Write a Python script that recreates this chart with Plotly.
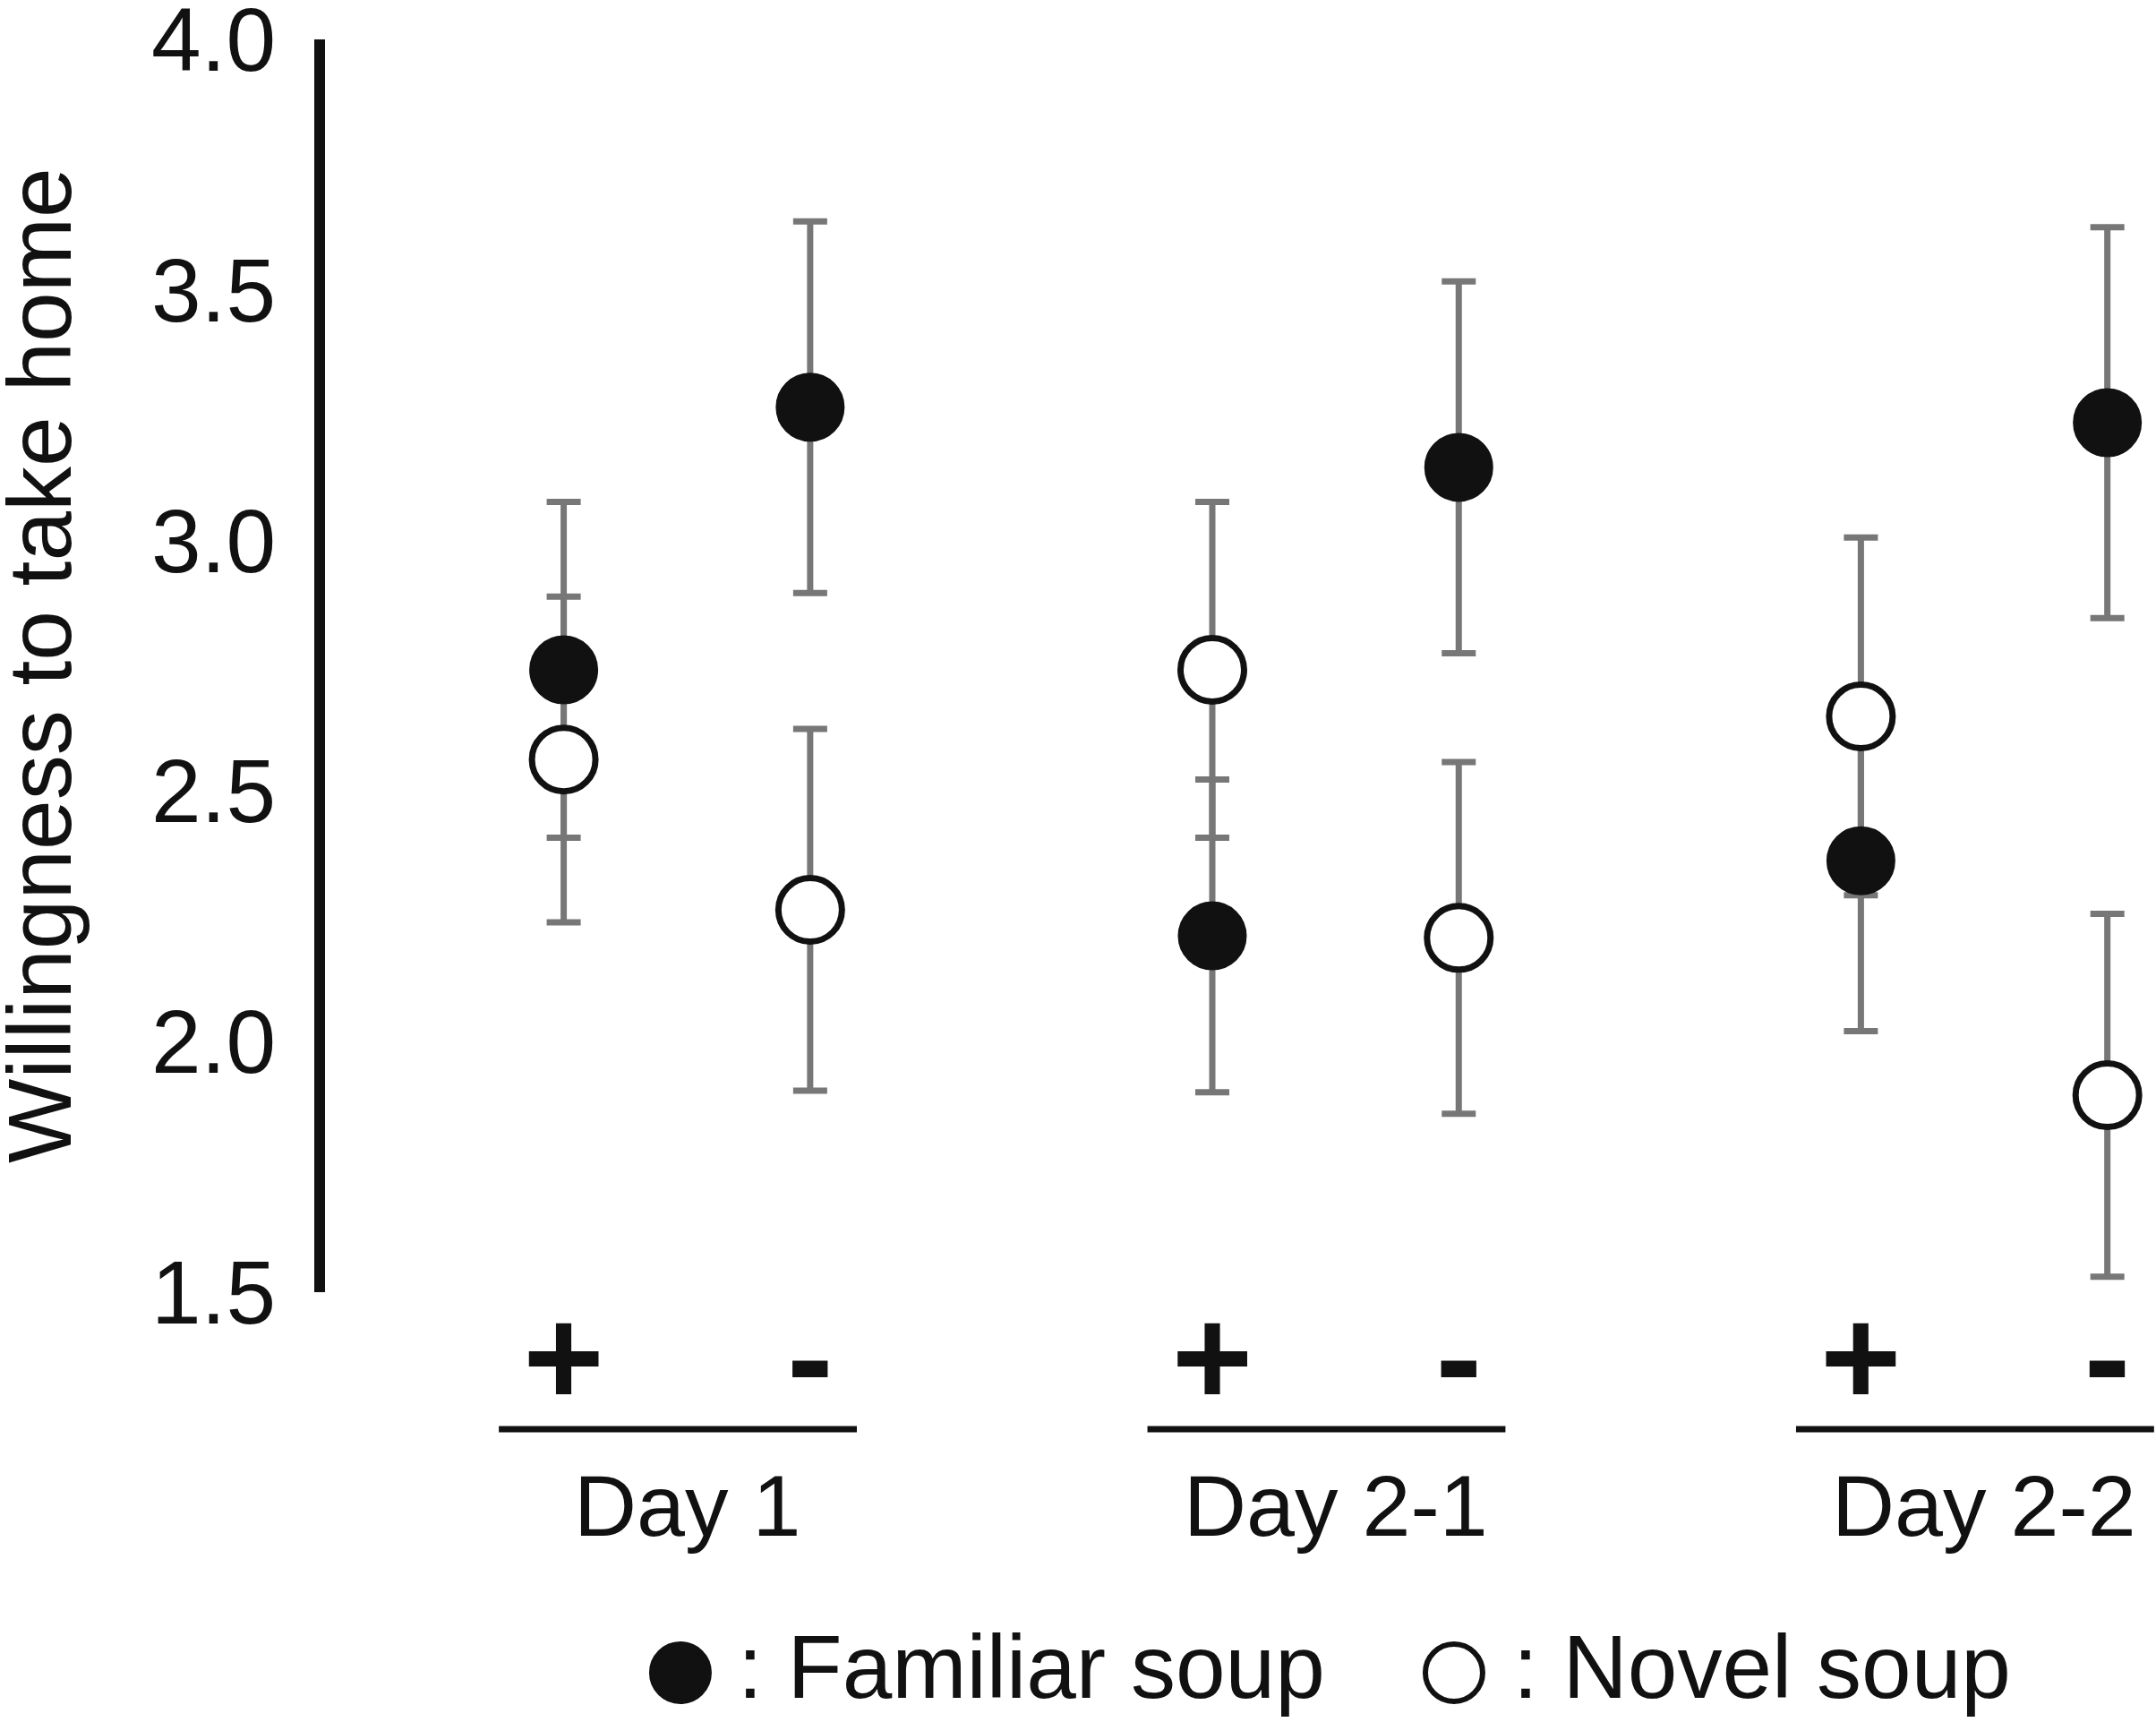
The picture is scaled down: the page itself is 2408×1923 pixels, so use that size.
import plotly.graph_objects as go

# data
days = ["Day 1", "Day 2-1", "Day 2-2"]
conditions = ["+", "-"]
familiar_mean = [2.742, 3.266, 2.211, 3.146, 2.361, 3.235]
familiar_err = [0.335, 0.371, 0.312, 0.371, 0.340, 0.390]
novel_mean = [2.563, 2.263, 2.742, 2.207, 2.649, 1.893]
novel_err = [0.325, 0.361, 0.335, 0.351, 0.357, 0.362]
y_ticks = [1.5, 2.0, 2.5, 3.0, 3.5, 4.0]

FONT = "Liberation Sans, Arial, sans-serif"
GREY = "#777777"
INK = "#111111"

# x position of each point: day index + small offset for +/- condition
offset = {"+": -0.19, "-": 0.19}
xs = [d + offset[c] for d in range(len(days)) for c in conditions]
tick_text = [c for d in days for c in conditions]

fig = go.Figure()

# error bars first so that every marker sits on top of them
for mean, err in [(familiar_mean, familiar_err), (novel_mean, novel_err)]:
    fig.add_trace(go.Scatter(
        x=xs, y=mean, mode="markers",
        marker=dict(size=1, color="rgba(0,0,0,0)"),
        error_y=dict(type="data", array=err, color=GREY,
                     thickness=7, width=19),
        showlegend=False, hoverinfo="skip", cliponaxis=False,
    ))

fig.add_trace(go.Scatter(
    x=xs, y=familiar_mean, mode="markers", name="Familiar soup",
    marker=dict(size=71, color=INK, line=dict(color=INK, width=6)),
    showlegend=False, cliponaxis=False,
))
fig.add_trace(go.Scatter(
    x=xs, y=novel_mean, mode="markers", name="Novel soup",
    marker=dict(size=71, color="white", line=dict(color=INK, width=7)),
    showlegend=False, cliponaxis=False,
))

# group underlines and day labels
for i, day in enumerate(days):
    fig.add_shape(type="line", xref="x", yref="paper",
                  x0=i - 0.29, x1=i + 0.262, y0=-0.1094, y1=-0.1094,
                  line=dict(color=INK, width=7))
    fig.add_annotation(x=i, y=-0.1708, xref="x", yref="paper",
                       text=day, showarrow=False, yanchor="middle",
                       font=dict(family=FONT, size=97, color=INK))

# custom legend
legend_items = [("Familiar soup", INK, 0.1941, 0.2244),
                ("Novel soup", "white", 0.6166, 0.6479)]
for label, fill, mx, tx in legend_items:
    fig.add_shape(type="circle", xref="paper", yref="paper",
                  xsizemode="pixel", ysizemode="pixel",
                  xanchor=mx, yanchor=-0.3038,
                  x0=-32, x1=32, y0=-32, y1=32,
                  fillcolor=fill, line=dict(color=INK, width=6))
    fig.add_annotation(x=tx, y=-0.2988, xref="paper", yref="paper",
                       text=": " + label, showarrow=False,
                       xanchor="left", yanchor="middle",
                       font=dict(family=FONT, size=100, color=INK))

# y axis title
fig.add_annotation(x=-0.1562, y=0.5, xref="paper", yref="paper",
                   text="Willingness to take home", textangle=-90,
                   showarrow=False, xanchor="center", yanchor="middle",
                   borderpad=0,
                   font=dict(family=FONT, size=100, color=INK))

fig.update_layout(
    width=2408, height=1923,
    margin=dict(l=363, r=0, t=44, b=480),
    paper_bgcolor="white", plot_bgcolor="white",
    font=dict(family=FONT, color=INK),
)
fig.update_xaxes(
    range=[-0.558, 2.265], showgrid=False, zeroline=False, showline=False,
    automargin=False,
    tickmode="array", tickvals=xs, ticktext=tick_text, ticks="",
    ticklabelstandoff=-30,
    tickfont=dict(family=FONT, size=155, color=INK, weight="bold"),
)
fig.update_yaxes(
    range=[1.5, 4.0], showgrid=False, zeroline=False,
    showline=True, linecolor=INK, linewidth=12, automargin=False,
    tickmode="array", tickvals=y_ticks,
    ticktext=[f"{v:.1f}" for v in y_ticks], ticks="",
    ticklabelstandoff=23, ticklabeloverflow="allow",
    tickfont=dict(family=FONT, size=100, color=INK),
)

fig.write_html("out.html", config={"displayModeBar": False},
               post_script="document.body.style.margin='0';")
